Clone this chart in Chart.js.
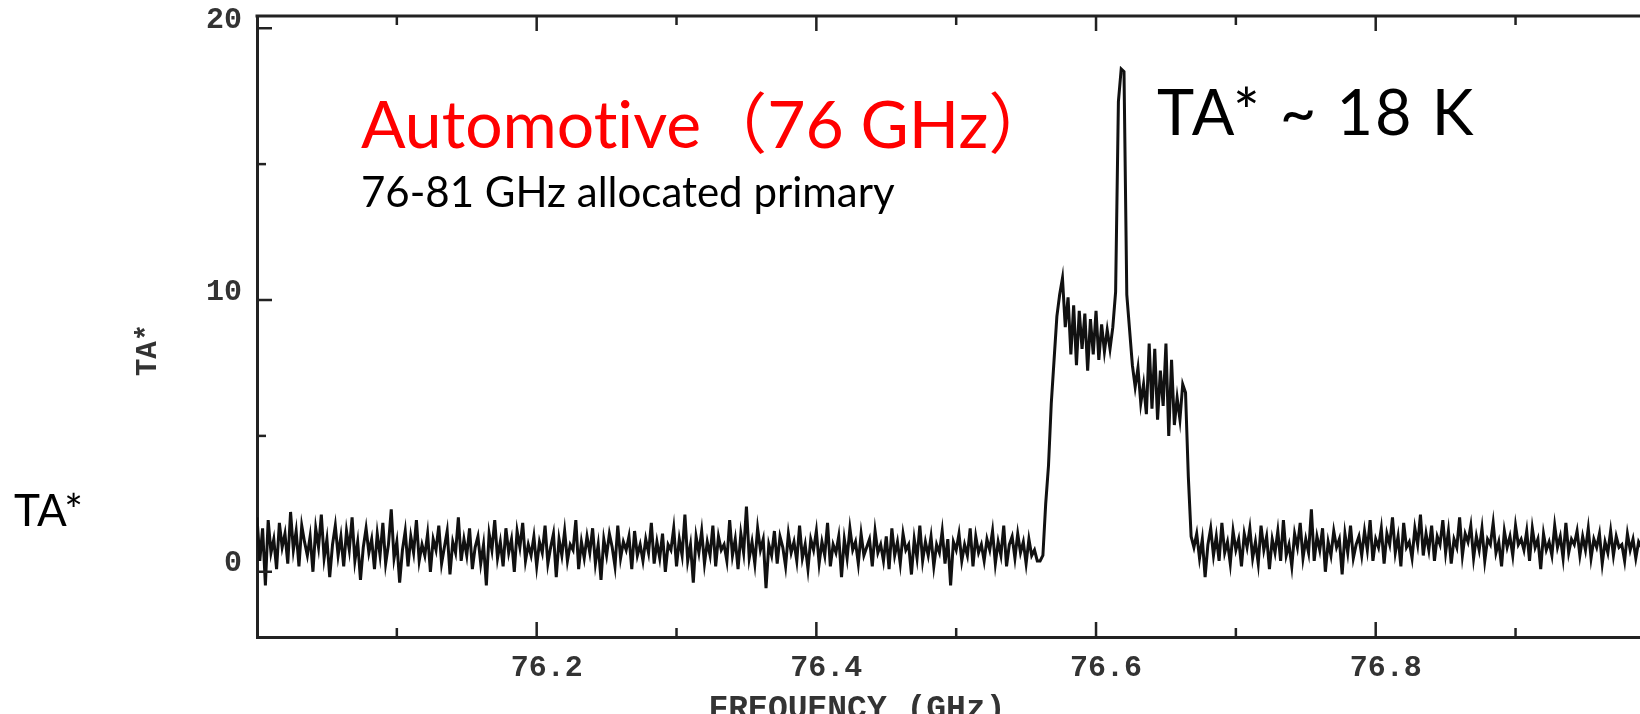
<!DOCTYPE html>
<html lang="en">
<head>
  <meta charset="UTF-8">
  <title>TA* spectrum, 76 GHz</title>
  <script src="https://cdn.jsdelivr.net/npm/chart.js"></script>
  <style>
    html, body {
      margin: 0;
      padding: 0;
      background: #fff;
      overflow: hidden;
    }
    canvas {
      display: block;
    }
  </style>
</head>
<body>
  <canvas id="grafico" width="1640" height="714"></canvas>

  <script>
    // channel grid of the spectrum (GHz)
    const chanStart = 76.000;
    const chanWidth = 0.002;

    // TA* (K), channels below the line (76.000 - 76.560)
    const taBelowLine = [
      2.0, 0.4, 1.6, -0.5, 1.9, 0.7, 1.2, 0.1, 1.8, 0.9, 1.4, 0.3, 2.2, 0.8, 1.5, 0.2, 1.7, 1.1, 0.6, 1.3,
      0.0, 1.6, 0.9, 2.1, 0.5, 1.2, -0.2, 1.0, 1.7, 0.6, 1.3, 0.2, 1.5, 0.8, 2.0, 0.4, 1.1, -0.3, 0.9, 1.6,
      0.7, 1.2, 0.1, 1.4, 0.6, 1.8, 0.3, 1.0, 2.3, 0.5, 1.1, -0.4, 0.8, 1.5, 0.2, 1.3, 0.7, 1.9, 0.4, 1.0,
      0.6, 1.4, 0.0, 1.2, 0.8, 1.7, 0.3, 0.9, 1.5, -0.1, 1.1, 0.7, 2.0, 0.4, 1.2, 0.6, 1.6, 0.1, 0.9, 1.3,
      0.3, 1.0, -0.5, 1.4, 0.8, 1.9, 0.5, 1.1, 0.2, 1.6, 0.7, 1.2, 0.0, 1.5, 0.9, 1.8, 0.4, 1.0, 0.6, 1.3,
      0.2, 1.1, 0.7, 1.7, 0.3, 0.9, 1.4, -0.2, 1.2, 0.6, 1.5, 0.4, 1.0, 0.8, 1.9, 0.1, 1.1, 0.5, 1.3, 0.7,
      1.6, 0.3, 1.0, -0.3, 1.2, 0.6, 1.4, 0.9, 0.2, 1.7, 0.5, 1.1, 0.8, 1.3, 0.1, 1.5, 0.6, 1.0, 0.4, 1.2,
      0.7, 1.8, 0.3, 1.1, 0.5, 1.4, 0.0, 1.0, 0.8, 1.6, 0.2, 1.2, 0.6, 2.1, 0.4, 1.0, -0.4, 1.3, 0.7, 1.5,
      0.3, 1.1, 0.6, 1.7, 0.2, 1.3, 0.8, 1.0, 0.4, 1.9, 0.6, 1.2, 0.1, 1.4, 0.7, 2.4, 0.5, 1.1, 0.3, 1.6,
      0.8, 1.2, -0.6, 1.0, 0.6, 1.5, 0.3, 1.3, 0.9, 0.2, 1.4, 0.7, 1.1, 0.4, 1.7, 0.5, 1.0, 0.1, 1.2, 0.8,
      1.5, 0.3, 1.1, 0.6, 1.8, 0.2, 1.0, 0.7, 1.3, -0.2, 1.2, 0.5, 1.6, 0.8, 1.1, 0.3, 1.4, 0.6, 0.9, 1.2,
      0.2, 1.5, 0.7, 1.0, 0.4, 1.3, 0.1, 1.6, 0.6, 1.1, 0.3, 1.4, 0.8, 1.0, -0.1, 1.2, 0.5, 1.7, 0.4, 1.1,
      0.6, 1.3, 0.2, 1.0, 0.7, 1.5, 0.3, 1.2, -0.5, 1.1, 0.8, 1.4, 0.4, 1.0, 0.6, 1.6, 0.2, 1.3, 0.7, 1.0,
      0.4, 1.2, 0.8, 1.5, 0.3, 1.1, 0.6, 1.7, 0.2, 1.0, 1.3, 0.5, 1.4, 0.7, 1.1, 0.3, 1.2, 0.6, 0.8, 0.4,
      0.4
    ];

    // TA* (K), the line itself (76.562 - 76.668)
    const taLine = [
      0.6, 2.5, 3.9, 6.2, 7.8, 9.4, 10.2, 10.8, 9.0, 10.1, 8.0, 9.8, 7.6, 9.6, 8.2, 9.5, 7.4, 9.3,
      8.0, 9.6, 7.8, 9.1, 8.1, 8.9, 8.2, 9.0, 10.3, 17.3, 18.5, 18.4, 10.2, 8.9, 7.6, 6.8, 7.5, 6.2,
      6.9, 5.8, 8.4, 6.0, 8.2, 5.6, 7.4, 6.1, 8.4, 5.0, 7.8, 5.4, 6.4, 5.6, 6.9, 6.6, 3.5, 1.3
    ];

    // TA* (K), channels above the line (76.670 - 76.990)
    const taAboveLine = [
      0.9, 1.4, 0.5, 1.2, -0.2, 1.0, 1.6, 0.6, 1.3, 0.4, 1.8, 0.7, 1.1, 0.3, 1.5, 0.8, 1.2, 0.2, 1.4, 0.9,
      1.6, 0.5, 1.1, 0.3, 1.7, 0.8, 1.3, 0.1, 1.2, 0.7, 1.5, 0.4, 1.9, 0.6, 1.0, 0.2, 1.4, 0.9, 1.8, 0.5,
      1.2, 0.7, 2.3, 0.4, 1.3, 0.8, 1.6, 0.0, 1.1, 0.6, 1.5, 0.9, 1.2, -0.1, 1.4, 0.7, 1.7, 0.5, 1.0, 1.3,
      0.6, 1.5, 0.8, 1.9, 0.4, 1.2, 0.9, 1.6, 0.3, 1.4, 1.0, 2.0, 0.7, 1.3, 0.2, 1.8, 0.9, 1.1, 0.5, 1.6,
      1.0, 2.1, 0.6, 1.4, 0.8, 1.7, 0.4, 1.3, 1.0, 1.9, 0.7, 1.5, 0.3, 1.2, 0.9, 2.0, 0.6, 1.4, 1.1, 1.7,
      0.5, 1.3, 0.8, 1.6, 0.4, 1.2, 1.0, 1.8, 0.7, 1.1, 0.2, 1.5, 0.9, 1.3, 0.6, 1.7, 1.0, 1.2, 0.8, 1.5,
      0.4, 1.6, 0.9, 1.2, 0.1, 1.4, 0.8, 1.1, 0.6, 1.7, 0.9, 1.3, 0.5, 1.8, 0.7, 1.2, 1.0, 1.5, 0.6, 1.3,
      0.8, 1.6, 0.5, 1.2, 0.9, 1.4, 0.3, 1.1, 0.7, 1.5, 0.6, 1.3, 0.9, 1.0, 0.4, 1.4, 0.8, 1.2, 0.5, 1.1,
      0.9
    ];

    const xTickValues = [76.2, 76.4, 76.6, 76.8];
    const xTickLabels = ['76.2', '76.4', '76.6', '76.8'];
    const xMinorTicks = [76.1, 76.3, 76.5, 76.7, 76.9];
    const yTickValues = [0, 10, 20];
    const yTickLabels = ['0', '10', '20'];
    const yMinorTicks = [5, 15];

    const ta = taBelowLine.concat(taLine, taAboveLine);
    const puntos = ta.map((t, i) => ({ x: chanStart + i * chanWidth, y: t }));

    const tickFont = { family: '"Liberation Mono", "DejaVu Sans Mono", monospace', size: 30, weight: 'bold' };

    // frame top line, inward tick marks and the slide texts
    const marco = {
      id: 'marco',
      afterDatasetsDraw(chart) {
        const { ctx, chartArea: a, scales: { x, y } } = chart;
        ctx.save();
        ctx.strokeStyle = '#222';
        ctx.lineWidth = 3;
        ctx.beginPath();
        ctx.moveTo(a.left - 1.5, a.top);
        ctx.lineTo(a.right, a.top);
        ctx.stroke();

        ctx.lineWidth = 2.5;
        const tickX = (v, len) => {
          const px = x.getPixelForValue(v);
          ctx.beginPath();
          ctx.moveTo(px, a.bottom);
          ctx.lineTo(px, a.bottom - len);
          ctx.moveTo(px, a.top);
          ctx.lineTo(px, a.top + len);
          ctx.stroke();
        };
        const tickY = (v, len) => {
          const py = y.getPixelForValue(v);
          ctx.beginPath();
          ctx.moveTo(a.left, py);
          ctx.lineTo(a.left + len, py);
          ctx.stroke();
        };
        xTickValues.forEach(v => tickX(v, 15));
        xMinorTicks.forEach(v => tickX(v, 9));
        yTickValues.forEach(v => tickY(v, 15));
        yMinorTicks.forEach(v => tickY(v, 9));

        // axis titles of the scanned plot
        ctx.fillStyle = '#333';
        ctx.font = 'bold 29px "Liberation Mono", monospace';
        ctx.textAlign = 'center';
        ctx.textBaseline = 'middle';
        ctx.save();
        ctx.translate(149, 350);
        ctx.rotate(-Math.PI / 2);
        ctx.fillText('TA*', 0, 0);
        ctx.restore();
        ctx.textBaseline = 'alphabetic';
        ctx.font = 'bold 33px "Liberation Mono", monospace';
        ctx.fillText('FREQUENCY (GHz)', 857, 718);

        // slide annotations
        ctx.textAlign = 'left';
        ctx.fillStyle = '#ff0000';
        ctx.font = '66px Lato, "Noto Sans CJK JP", sans-serif';
        ctx.fillText('Automot\u200Cive（76 GHz）', 361, 148);
        ctx.fillStyle = '#000';
        ctx.font = '42px Lato, "Noto Sans", sans-serif';
        ctx.fillText('76-81 GHz allocated primary', 361, 207);
        ctx.font = '63px Lato, "Noto Sans", sans-serif';
        ctx.letterSpacing = '2px';
        ctx.fillText('TA* ~ 18 K', 1157, 135);
        ctx.letterSpacing = '0px';
        ctx.font = '44px Lato, "Noto Sans", sans-serif';
        ctx.fillText('TA*', 14, 526);
        ctx.restore();
      }
    };

    const ctx = document.getElementById('grafico').getContext('2d');
    new Chart(ctx, {
      type: 'line',
      data: {
        datasets: [{
          label: 'TA*',
          data: puntos,
          borderColor: '#111',
          borderWidth: 3,
          tension: 0,
          pointRadius: 0,
          fill: false
        }]
      },
      options: {
        responsive: false,
        animation: false,
        layout: { padding: { top: 16, right: 0, left: 0, bottom: 0 } },
        plugins: {
          legend: { display: false },
          tooltip: { enabled: false }
        },
        scales: {
          x: {
            type: 'linear',
            min: 76.0,
            max: 76.989,
            afterFit: s => { s.height = 77; s.paddingLeft = 0; s.paddingRight = 0; },
            afterBuildTicks: s => { s.ticks = xTickValues.map(v => ({ value: v })); },
            grid: { display: false, drawTicks: false },
            border: { display: true, color: '#222', width: 3 },
            ticks: {
              padding: 13,
              labelOffset: 10,
              color: '#333',
              font: tickFont,
              maxRotation: 0,
              callback: (v, i) => xTickLabels[i]
            }
          },
          y: {
            min: -2.4,
            max: 20.45,
            afterFit: s => { s.width = 257; s.paddingTop = 0; s.paddingBottom = 0; },
            afterBuildTicks: s => { s.ticks = yTickValues.map(v => ({ value: v })); },
            grid: { display: false, drawTicks: false },
            border: { display: true, color: '#222', width: 3 },
            ticks: {
              padding: 15,
              labelOffset: -8,
              color: '#333',
              font: tickFont,
              callback: (v, i) => yTickLabels[i]
            }
          }
        }
      },
      plugins: [marco]
    });
  </script>
</body>
</html>
